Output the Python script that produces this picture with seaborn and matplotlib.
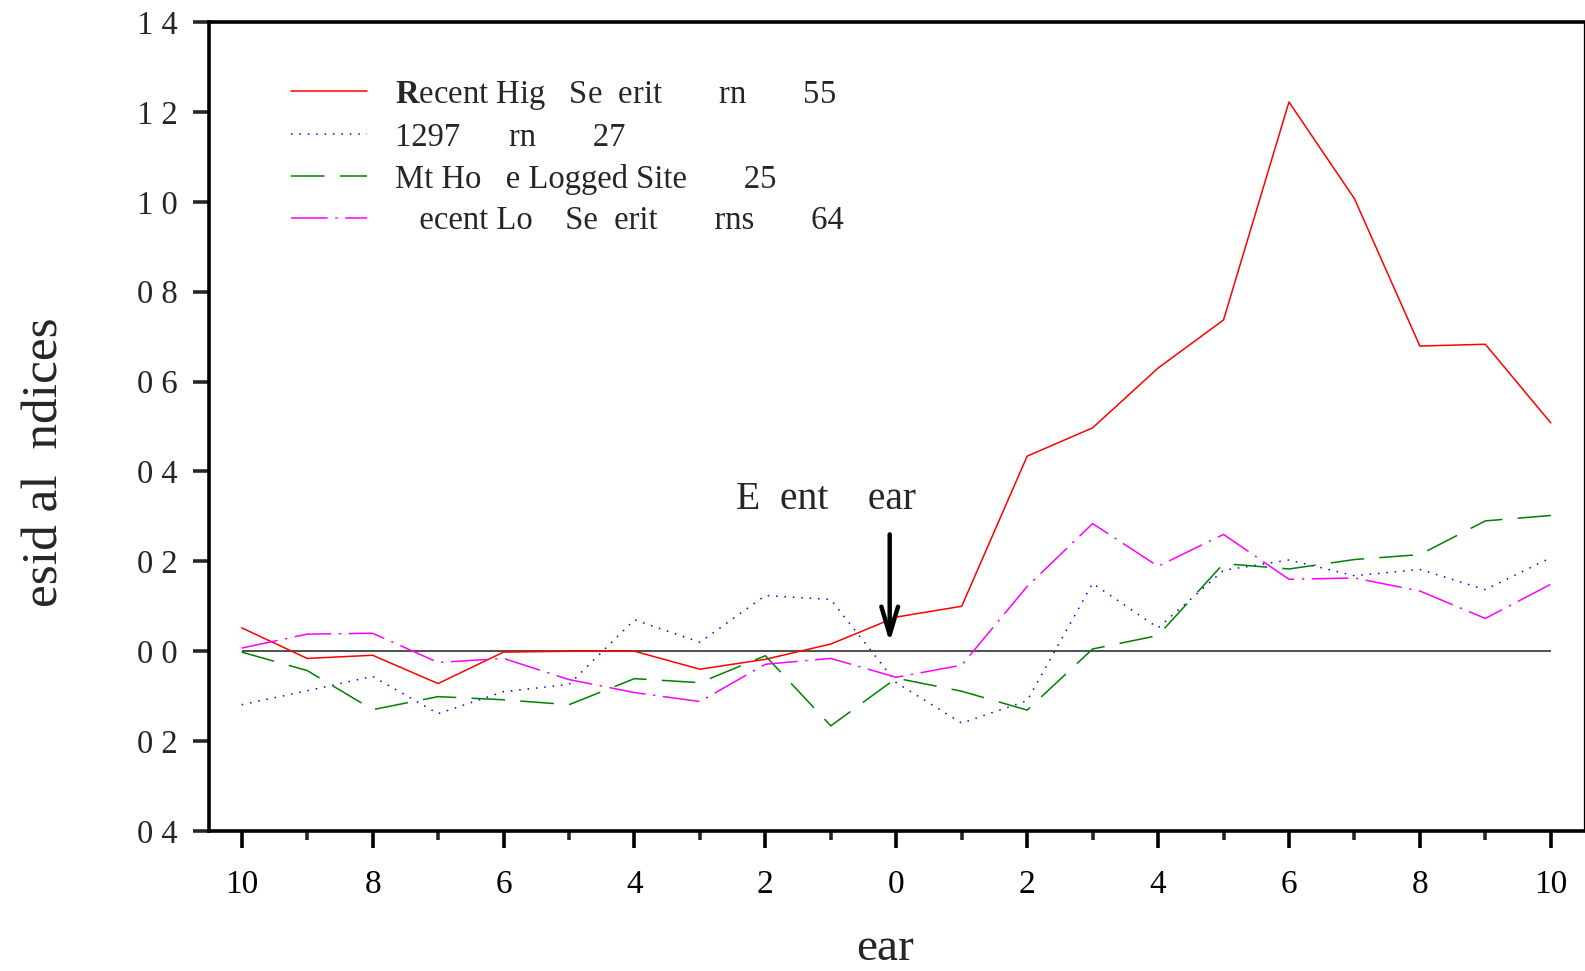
import matplotlib
matplotlib.use("Agg")
import matplotlib.pyplot as plt
import seaborn as sns
import pandas as pd

# ---------------- data ----------------
years = list(range(-10, 11))
high_sev = [0.052, -0.016, -0.009, -0.072, -0.002, 0.000, 0.000, -0.040, -0.018, 0.016,
            0.076, 0.100, 0.434, 0.497, 0.630, 0.737, 1.222, 1.007, 0.679, 0.683, 0.508]
burn_1297 = [-0.119, -0.088, -0.056, -0.139, -0.090, -0.074, 0.070, 0.020, 0.124, 0.115,
             -0.070, -0.160, -0.110, 0.151, 0.052, 0.180, 0.203, 0.168, 0.182, 0.137, 0.208]
logged = [-0.002, -0.043, -0.130, -0.101, -0.108, -0.119, -0.061, -0.070, -0.010, -0.166,
          -0.060, -0.089, -0.131, 0.005, 0.035, 0.195, 0.183, 0.204, 0.215, 0.290, 0.302]
low_sev = [0.007, 0.038, 0.040, -0.025, -0.016, -0.063, -0.092, -0.112, -0.029, -0.016,
           -0.058, -0.031, 0.144, 0.284, 0.189, 0.260, 0.160, 0.163, 0.134, 0.073, 0.149]

series_labels = [
    r"$\mathbf{R}$ecent Hig   Se  erit       rn       55",
    "1297      rn       27",
    "Mt Ho   e Logged Site       25",
    "   ecent Lo    Se  erit       rns       64",
]
series_values = [high_sev, burn_1297, logged, low_sev]
series_colors = ["#ff0000", "#0000ff", "#008000", "#ff00ff"]
series_styles = ["-", (0, (1, 4.5)), (0, (22, 10)), (0, (24, 5, 1.5, 5))]

xtick_vals = [-10, -8, -6, -4, -2, 0, 2, 4, 6, 8, 10]
xtick_labels = ["10", "8", "6", "4", "2", "0", "2", "4", "6", "8", "10"]
ytick_vals = [1.4, 1.2, 1.0, 0.8, 0.6, 0.4, 0.2, 0.0, -0.2, -0.4]
ytick_labels = ["1 4", "1 2", "1 0", "0 8", "0 6", "0 4", "0 2", "0 0", "0 2", "0 4"]

xlabel = "ear"
ylabel = "esid al  ndices"
event_text = "E  ent    ear"
event_x = -0.1

# ---------------- style ----------------
sns.set_style("white")
plt.rcParams["font.family"] = ["Liberation Serif", "DejaVu Serif"]
plt.rcParams["mathtext.fontset"] = "custom"
plt.rcParams["mathtext.rm"] = "Liberation Serif"
plt.rcParams["mathtext.bf"] = "Liberation Serif:bold"

fig = plt.figure(figsize=(15.85, 9.71), dpi=100)
ax = fig.add_axes([209 / 1585, 140 / 971, 1374.5 / 1585, 809 / 971])

for vals, lab, col, ls in zip(series_values, series_labels, series_colors, series_styles):
    df = pd.DataFrame({"year": years, "value": vals})
    sns.lineplot(data=df, x="year", y="value", color=col, linestyle=ls,
                 linewidth=1.1, label=lab, ax=ax, zorder=3)

ax.hlines(0, years[0], years[-1], color="#404040", linewidth=1.3, zorder=2)

ax.set_xlim(-10.5, 10.5)
ax.set_ylim(-0.4, 1.4)

ax.set_xticks(xtick_vals, labels=xtick_labels)
ax.set_xticks(list(range(-9, 10, 2)), minor=True)
ax.set_yticks(ytick_vals, labels=ytick_labels)

ax.tick_params(axis="x", which="major", direction="out", length=12, width=2.6,
               labelsize=24, pad=16, bottom=True, colors="black")
ax.tick_params(axis="x", which="minor", direction="out", length=6.5, width=2.6,
               bottom=True)
ax.tick_params(axis="y", which="major", direction="out", length=11.5, width=2.6,
               labelsize=23.5, pad=11, left=True)

for side in ["left", "bottom", "top"]:
    ax.spines[side].set_linewidth(2.6)
    ax.spines[side].set_color("black")
ax.spines["right"].set_linewidth(0.9)
ax.spines["right"].set_color("black")

ax.set_xlabel(xlabel, fontsize=34)
ax.xaxis.set_label_coords(0.492, -0.159)
ax.xaxis.label.set_va("baseline")
ax.set_ylabel(ylabel, fontsize=37)
ax.yaxis.set_label_coords(-0.119, 0.456)
ax.yaxis.label.set_va("center")

ax.text(-1.08, 0.316, event_text, fontsize=28.5, ha="center", va="baseline")
ax.annotate("", xy=(event_x, 0.02), xytext=(event_x, 0.26),
            arrowprops=dict(arrowstyle="->,head_length=2.0,head_width=0.6",
                            lw=3.2, color="black", shrinkA=0, shrinkB=0))

leg = ax.legend(loc="upper left", bbox_to_anchor=(0.06, 0.93), frameon=False,
                fontsize=23.5, handlelength=2.3, handletextpad=0.86,
                labelspacing=0.33, borderpad=0, borderaxespad=0)
for line in leg.get_lines():
    line.set_linewidth(1.1)

fig.savefig("out.png", dpi=100)
